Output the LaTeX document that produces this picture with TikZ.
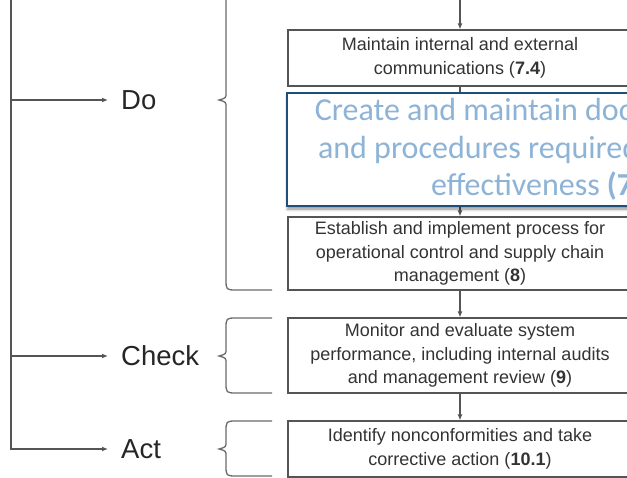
\documentclass[tikz,border=0pt]{standalone}
\usepackage{fontspec}
\setmainfont{Liberation Sans}
\newfontfamily\calloutfont{Carlito}
\usetikzlibrary{arrows.meta,shadows.blur}

\definecolor{linegrey}{HTML}{555555}
\definecolor{bracegrey}{HTML}{6A6A6A}
\definecolor{textgrey}{HTML}{333333}
\definecolor{navyborder}{HTML}{1F4E79}
\definecolor{paleblue}{HTML}{8DB3D6}

\begin{document}
\begin{tikzpicture}[x=1pt,y=-1pt,
  line/.style={draw=linegrey, line width=1.2pt},
  flow/.style={line, -{Latex[length=6pt,width=5pt]}},
  bracket/.style={draw=bracegrey, line width=1.3pt},
  stepbox/.style={line, text=textgrey, minimum width=344pt, align=center,
    font=\fontsize{18}{23.5}\selectfont, inner sep=0pt},
  phase/.style={anchor=west, text=black!85, inner sep=0pt,
    font=\fontsize{27.5}{32}\selectfont, text height=19pt, text depth=0pt},
  callout/.style={draw=navyborder, line width=2pt, fill=white, text=paleblue,
    align=center, inner sep=0pt, minimum width=525pt, minimum height=113pt,
    font=\calloutfont\fontsize{32}{37.5}\selectfont,
    blur shadow={shadow xshift=0.5pt, shadow yshift=-3pt,
      shadow blur radius=3pt, shadow opacity=45}}
]
\useasboundingbox (0,0) rectangle (627,478);

% process steps
\node[stepbox, minimum height=56pt] (b1) at (460,58)
  {Maintain internal and external\\communications (\textbf{7.4})};
\node[stepbox, minimum height=73pt] (b3) at (460,253.5)
  {Establish and implement process for\\operational control and supply chain\\management (\textbf{8})};
\node[stepbox, minimum height=75pt] (b4) at (460,355.5)
  {Monitor and evaluate system\\performance, including internal audits\\and management review (\textbf{9})};
\node[stepbox, minimum height=56pt] (b5) at (460,449)
  {Identify nonconformities and take\\corrective action (\textbf{10.1})};

% flow between steps
\coordinate (entry) at (460,-5);
\draw[flow] (entry) -- (b1);
\draw[flow] (b1) -- (b3);
\draw[flow] (b3) -- (b4);
\draw[flow] (b4) -- (b5);

% highlighted documentation step
\node[callout] (docs) at (549.5,149.5)
  {Create and maintain documentation\\and procedures required for system\\effectiveness \textbf{(7.5)}};

% PDCA phase labels
\node[phase] (do) at (121,100) {Do};
\node[phase] (check) at (121,356) {Check};
\node[phase] (act) at (121,449) {Act};

% trunk with branches to the phases
\coordinate (trunk) at (11,-5);
\draw[flow, shorten >=13pt] (trunk |- do) -- (do);
\draw[flow, shorten >=13pt] (trunk |- check) -- (check);
\draw[flow, shorten >=13pt] (trunk) |- (act);

% braces grouping the steps
\draw[bracket] (272,290) -- (237,290) .. controls (226,290) .. (226,279)
  -- (226,107) .. controls (226,102) .. (219,100) .. controls (226,98) .. (226,93)
  -- (226,-5);
\draw[bracket] (272,318) -- (237,318) .. controls (226,318) .. (226,329)
  -- (226,349) .. controls (226,354) .. (219,356) .. controls (226,358) .. (226,363)
  -- (226,382) .. controls (226,393) .. (237,393) -- (272,393);
\draw[bracket] (272,421) -- (237,421) .. controls (226,421) .. (226,432)
  -- (226,442) .. controls (226,447) .. (219,449) .. controls (226,451) .. (226,456)
  -- (226,465) .. controls (226,476) .. (237,476) -- (272,476);
\end{tikzpicture}
\end{document}
